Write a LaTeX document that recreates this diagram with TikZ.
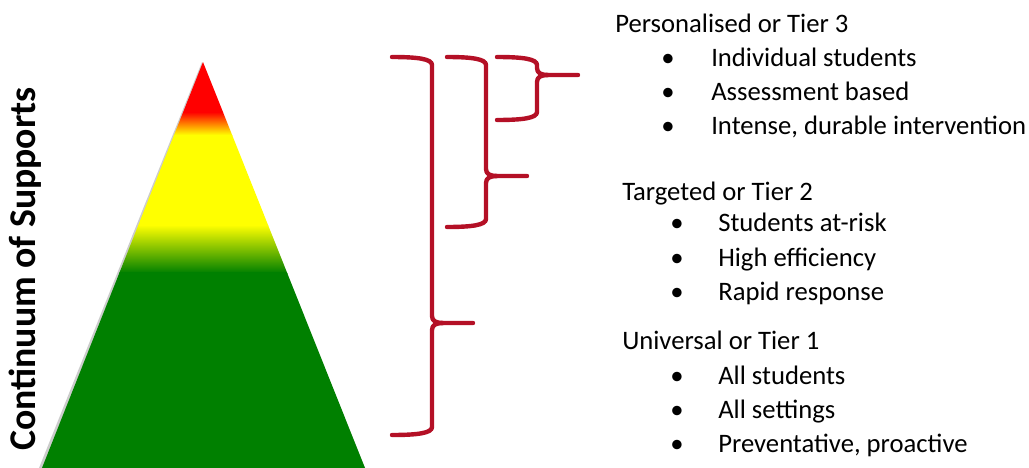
\documentclass[tikz,border=0pt]{standalone}
\usepackage{fontspec}
\setmainfont{Carlito}
\usetikzlibrary{calc}

\definecolor{tierred}{RGB}{255,0,0}
\definecolor{tieryellow}{RGB}{255,255,0}
\definecolor{tiergreen}{RGB}{0,128,0}
\definecolor{bracered}{RGB}{180,16,38}

\tikzset{
  brace/.style={bracered, line width=3.3pt, line cap=round, line join=round},
  tiertext/.style={anchor=base west, inner sep=0pt, font=\fontsize{20}{24}\selectfont},
  tierdot/.style={anchor=base, inner sep=0pt, font=\fontsize{20}{24}\selectfont},
}

% #1 arm x, #2 spine x, #3 top y, #4 tip y, #5 bottom y
\newcommand{\tierbrace}[5]{%
  \draw[brace] (#1,#3) .. controls (#2-14,#3) and (#2,#3+2) .. (#2,#3+8)
    -- (#2,#4-7) .. controls (#2,#4-2) and (#2+4,#4) .. (#2+11,#4) -- (#2+41,#4);
  \draw[brace] (#2+11,#4) .. controls (#2+4,#4) and (#2,#4+2) .. (#2,#4+7)
    -- (#2,#5-8) .. controls (#2,#5-2) and (#2-14,#5) .. (#1,#5);
}

\begin{document}
\begin{tikzpicture}[x=0.75pt, y=-0.75pt]
  \useasboundingbox (0,0) rectangle (1029,468);

  % pyramid
  \coordinate (apex) at (203,62);
  \coordinate (baseL) at (42,468);
  \coordinate (baseR) at (365,468);
  \fill[black!20] ($(apex)+(-1,0)$) -- ($(baseL)+(-3,0)$) -- (baseR) -- cycle;
  \begin{scope}
    \clip (apex) -- (baseL) -- (baseR) -- cycle;
    \fill[tierred] (0,50) rectangle (400,112);
    \shade[top color=tierred, bottom color=tieryellow] (0,112) rectangle (400,135);
    \fill[tieryellow] (0,135) rectangle (400,226);
    \shade[top color=tieryellow, bottom color=tiergreen] (0,225) rectangle (400,273);
    \fill[tiergreen] (0,272) rectangle (400,470);
  \end{scope}

  \node[rotate=90, inner sep=0pt, font=\fontsize{28.3}{31}\selectfont\bfseries]
    (title) at (25,269) {Continuum of Supports};

  % braces
  \tierbrace{392}{432}{57}{323}{435}
  \tierbrace{447}{486}{57}{176}{227}
  \tierbrace{497}{537}{57}{75}{120}

  % tier 3
  \node[tiertext] (t3head) at (615,32) {Personalised or Tier 3};
  \node[tierdot]  (d3a) at (668,66)  {•};
  \node[tiertext] (t3a) at (711,66)  {Individual students};
  \node[tierdot]  (d3b) at (668,100) {•};
  \node[tiertext] (t3b) at (711,100) {Assessment based};
  \node[tierdot]  (d3c) at (668,134) {•};
  \node[tiertext] (t3c) at (711,134) {Intense, durable intervention};

  % tier 2
  \node[tiertext] (t2head) at (622,200) {Targeted or Tier 2};
  \node[tierdot]  (d2a) at (677,231) {•};
  \node[tiertext] (t2a) at (718,231) {Students at-risk};
  \node[tierdot]  (d2b) at (677,266) {•};
  \node[tiertext] (t2b) at (718,266) {High efficiency};
  \node[tierdot]  (d2c) at (677,300) {•};
  \node[tiertext] (t2c) at (718,300) {Rapid response};

  % tier 1
  \node[tiertext] (t1head) at (622,349) {Universal or Tier 1};
  \node[tierdot]  (d1a) at (677,384) {•};
  \node[tiertext] (t1a) at (718,384) {All students};
  \node[tierdot]  (d1b) at (677,418) {•};
  \node[tiertext] (t1b) at (718,418) {All settings};
  \node[tierdot]  (d1c) at (677,452) {•};
  \node[tiertext] (t1c) at (718,452) {Preventative, proactive};
\end{tikzpicture}
\end{document}
